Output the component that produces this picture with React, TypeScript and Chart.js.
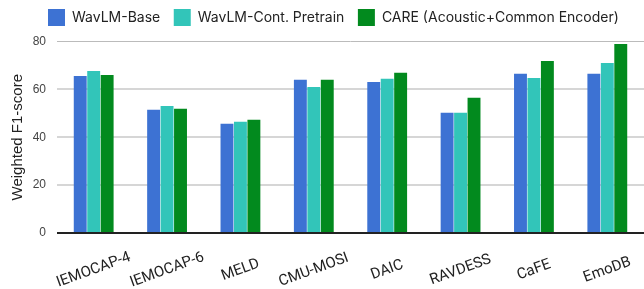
import React, { useEffect, useRef } from "react";
import { Chart, registerables } from "chart.js";

Chart.register(...registerables);

const categories = ["IEMOCAP-4", "IEMOCAP-6", "MELD", "CMU-MOSI", "DAIC", "RAVDESS", "CaFE", "EmoDB"];
const wavlmBase = [65.6, 51.5, 45.6, 64.0, 63.1, 50.2, 66.5, 66.5];
const wavlmCont = [67.7, 53.1, 46.5, 61.0, 64.4, 50.2, 64.8, 71.0];
const care = [66.0, 51.9, 47.3, 64.0, 66.9, 56.5, 71.9, 79.0];
const seriesNames = ["WavLM-Base", "WavLM-Cont. Pretrain", "CARE (Acoustic+Common Encoder)"];
const yTicks = [0, 20, 40, 60, 80];

const LEGEND_PAD = 13.5;

const legendPlacePlugin = {
  id: "legendPlace",
  beforeDraw(chart: any) {
    const lg = chart.legend;
    if (!lg) return;
    const w = lg.right - lg.left;
    lg.left = 48 - LEGEND_PAD;
    lg.right = lg.left + w + 20;
    lg.top = 9 - LEGEND_PAD;
  },
};

const xLabelPlugin = {
  id: "xLabels",
  afterDraw(chart: any) {
    const { ctx, scales, chartArea } = chart;
    const x = scales.x;
    ctx.save();
    ctx.font = "15px Roboto";
    ctx.fillStyle = "#222";
    ctx.textAlign = "center";
    ctx.textBaseline = "middle";
    categories.forEach((lab, i) => {
      const px = x.getPixelForTick(i);
      ctx.save();
      ctx.translate(px, chartArea.bottom + 37);
      ctx.rotate((-20 * Math.PI) / 180);
      ctx.fillText(lab, 0, 0);
      ctx.restore();
    });
    ctx.restore();
  },
};

export default function App() {
  const ref = useRef<HTMLCanvasElement>(null);
  useEffect(() => {
    document.body.style.margin = "0";
    const chart = new Chart(ref.current!, {
      type: "bar",
      data: {
        labels: categories,
        datasets: [
          { label: seriesNames[0], data: wavlmBase, backgroundColor: "#3D72D3" },
          { label: seriesNames[1], data: wavlmCont, backgroundColor: "#32C5B9" },
          { label: seriesNames[2], data: care, backgroundColor: "#028A1E" },
        ],
      },
      options: {
        responsive: false,
        animation: false,
        layout: { padding: { left: 9, right: 0, top: 1, bottom: 48 } },
        datasets: { bar: { categoryPercentage: 0.55, barPercentage: 0.96 } },
        plugins: {
          tooltip: { enabled: false },
          legend: {
            position: "top",
            align: "start",
            labels: {
              boxWidth: 17,
              boxHeight: 17,
              padding: LEGEND_PAD,
              color: "#222",
              font: { family: "Inter", size: 14 },
            },
          },
        },
        scales: {
          x: {
            grid: { display: false },
            border: { display: false },
            ticks: { display: false },
          },
          y: {
            min: 0,
            max: 80,
            afterBuildTicks: (s: any) => {
              s.ticks = yTicks.map((v) => ({ value: v }));
            },
            afterFit: (s: any) => {
              s.width = 48;
            },
            border: { display: false },
            grid: {
              drawTicks: false,
              color: (c: any) => (c.tick.value === 0 ? "#222" : c.tick.value === 80 ? "#bbb" : "#d6d6d6"),
              lineWidth: (c: any) => (c.tick.value === 80 ? 1 : 2),
            },
            ticks: {
              padding: 11,
              color: "#444",
              font: { family: "Arial", size: 12 },
            },
            title: {
              display: true,
              text: "Weighted F1-score",
              color: "#222",
              font: { family: "Arial", size: 15 },
              padding: { top: 0, bottom: 0 },
            },
          },
        },
      },
      plugins: [legendPlacePlugin, xLabelPlugin],
    });
    return () => chart.destroy();
  }, []);
  return <canvas ref={ref} width={644} height={289} />;
}
